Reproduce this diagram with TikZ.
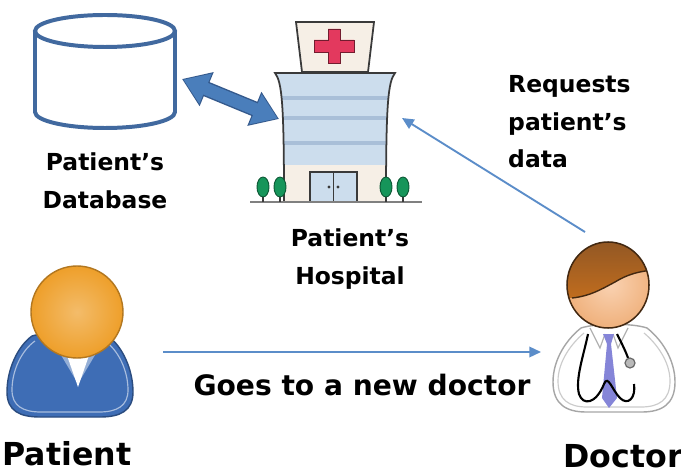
\documentclass[tikz,border=0pt]{standalone}
\usepackage{fontspec}
\setmainfont{DejaVu Sans}
\usetikzlibrary{arrows.meta}
\definecolor{dbblue}{HTML}{41699F}
\definecolor{arrowfill}{HTML}{4A7EBB}
\definecolor{arrowedge}{HTML}{34598C}
\definecolor{linkblue}{HTML}{5B8DC9}
\definecolor{darkline}{HTML}{3A3A3A}
\definecolor{cream}{HTML}{F6EFE6}
\definecolor{glass}{HTML}{CCDDED}
\definecolor{stripe}{HTML}{A9BFD8}
\definecolor{crossred}{HTML}{E3395E}
\definecolor{treegreen}{HTML}{16955A}
\definecolor{patientblue}{HTML}{3E6DB5}
\definecolor{headorange}{HTML}{EE9F2A}
\definecolor{hair}{HTML}{A5642B}
\definecolor{skin}{HTML}{F6B47E}
\definecolor{tie}{HTML}{8585D8}

\begin{document}
\begin{tikzpicture}[x=0.03cm, y=0.03cm,
    iconlabel/.style={font=\fontsize{20}{32}\selectfont\bfseries, align=center, inner sep=0pt},
    biglabel/.style={font=\fontsize{27}{30}\selectfont\bfseries, inner sep=0pt},
    link/.style={-{Triangle[length=10pt, width=9pt]}, linkblue, line width=1.6pt},
    outline/.style={draw=darkline, line width=1.5pt},
    tree/.style={fill=treegreen, draw=treegreen!60!black, line width=0.8pt},
  ]
  \fill[white] (0,0) rectangle (681,474);
  \useasboundingbox (0,0) rectangle (681,474);

  % database
  \filldraw[fill=white, draw=dbblue, line width=3.4pt]
    (35,443) -- (35,362) arc (180:360:70 and 16) -- (175,443);
  \draw[dbblue, line width=3.4pt] (105,443) ellipse (70 and 16);
  \node[iconlabel] (dblabel) at (105,293) {Patient's\\Database};

  % hospital
  \def\building{(275,401) -- (395,401) .. controls (388,392) and (386,370) .. (386,272)
    -- (284,272) .. controls (284,370) and (282,392) .. (275,401) -- cycle}
  \filldraw[outline, fill=cream] (296,452) -- (374,452) -- (368,402) -- (302,402) -- cycle;
  \filldraw[fill=crossred, draw=crossred!50!black, line width=0.8pt]
    (328,445) -- (340,445) -- (340,434) -- (354,434) -- (354,422) -- (340,422)
    -- (340,411) -- (328,411) -- (328,422) -- (314,422) -- (314,434) -- (328,434) -- cycle;
  \fill[cream] \building;
  \begin{scope}
    \clip \building;
    \fill[glass] (270,309) rectangle (400,402);
    \foreach \y in {376,356,331}
      \draw[stripe, line width=2.6pt] (270,\y) -- (400,\y);
  \end{scope}
  \draw[outline] \building;
  \filldraw[outline, fill=glass] (310,272) rectangle (357,302);
  \draw[outline] (333.5,272) -- (333.5,302);
  \fill[darkline] (329,287) circle (1.7) (338,287) circle (1.7);
  \draw[gray, line width=1.6pt] (250,272) -- (422,272);
  \foreach \x in {263,280,386,403} {
    \draw[darkline, line width=1pt] (\x,278) -- (\x,272);
    \draw[tree] (\x,287) ellipse (6 and 10);
  }
  \node[iconlabel] (hosplabel) at (350,215) {Patient's\\Hospital};

  % patient
  \filldraw[fill=patientblue, draw=patientblue!70!black, line width=1.2pt]
    (32,138) .. controls (18,128) and (7,105) .. (7,82) .. controls (7,63) and (20,57) .. (40,57)
    -- (100,57) .. controls (120,57) and (133,63) .. (133,82) .. controls (133,105) and (122,128) .. (108,138)
    .. controls (92,143) and (48,143) .. (32,138) -- cycle;
  \draw[patientblue!45!white, line width=1pt]
    (35,133) .. controls (22,124) and (12,104) .. (12,84) .. controls (12,68) and (23,62) .. (41,62)
    -- (99,62) .. controls (117,62) and (128,68) .. (128,84) .. controls (128,104) and (118,124) .. (105,133);
  \fill[patientblue!55!white] (52,134) -- (64,127) -- (77,92) -- cycle;
  \fill[patientblue!55!white] (104,134) -- (92,127) -- (79,92) -- cycle;
  \fill[white] (64,127) -- (92,127) -- (78,87) -- cycle;
  \shade[inner color=headorange!70!white, outer color=headorange, shading=radial]
    (77,162) circle (46);
  \draw[headorange!75!black, line width=1.2pt] (77,162) circle (46);
  \node[biglabel] (patlabel) at (67,20) {Patient};

  % doctor
  \filldraw[fill=white, draw=gray!70, line width=1.2pt]
    (581,146) .. controls (567,135) and (553,115) .. (553,92) .. controls (553,70) and (566,62) .. (586,62)
    -- (642,62) .. controls (662,62) and (675,70) .. (675,92) .. controls (675,115) and (661,135) .. (647,146)
    .. controls (632,151) and (596,151) .. (581,146) -- cycle;
  \draw[gray!40, line width=1pt]
    (584,141) .. controls (572,131) and (558,113) .. (558,93) .. controls (558,74) and (569,67) .. (587,67)
    -- (641,67) .. controls (659,67) and (670,74) .. (670,93) .. controls (670,113) and (656,131) .. (644,141);
  \draw[gray!60, line width=1pt] (590,146) -- (600,126) -- (605,140) (628,146) -- (618,126) -- (613,140);
  \fill[tie] (603,140) -- (614,140) -- (611,130) -- (617,76) -- (609,66) -- (602,76) -- (607,130) -- cycle;
  \draw[black, line width=1.8pt]
    (588,140) .. controls (584,120) and (575,95) .. (579,80) .. controls (583,68) and (596,70) .. (604,90)
    .. controls (608,100) and (612,84) .. (620,76) .. controls (628,68) and (636,76) .. (634,90);
  \draw[black, line width=1.8pt] (617,140) .. controls (622,130) and (626,122) .. (628,116);
  \filldraw[fill=gray!55, draw=gray!80!black, line width=1pt] (630,111) circle (5);
  \begin{scope}
    \clip (608,189) ellipse (41 and 43);
    \shade[inner color=skin!60!white, outer color=skin!85!brown, shading=radial] (560,140) rectangle (660,240);
    \shade[top color=hair!85!black, bottom color=hair!70!orange]
      (560,176) -- (572,176) .. controls (590,178) and (600,184) .. (615,192)
      .. controls (628,200) and (640,203) .. (655,204) -- (655,240) -- (560,240) -- cycle;
    \draw[hair!40!black, line width=1.2pt] (572,176) .. controls (590,178) and (600,184) .. (615,192)
      .. controls (628,200) and (640,203) .. (655,204);
  \end{scope}
  \draw[hair!40!black, line width=1.3pt] (608,189) ellipse (41 and 43);
  \node[biglabel] (doclabel) at (623,18) {Doctor};

  % connectors
  \coordinate (db-port) at (182,395);
  \coordinate (hosp-port) at (279,355);
  \coordinate (doc-out) at (585,242);
  \coordinate (hosp-in) at (402,356);
  \coordinate (pat-out) at (163,122);
  \coordinate (doc-in) at (541,122);

  \draw[arrowedge, line width=13pt,
    {Triangle[length=0.8cm, width=1.05cm]}-{Triangle[length=0.8cm, width=1.05cm]}]
    (db-port) -- (hosp-port);
  \draw[arrowfill, line width=10.6pt, shorten <=1.3pt, shorten >=1.3pt,
    {Triangle[length=0.72cm, width=0.93cm]}-{Triangle[length=0.72cm, width=0.93cm]}]
    (db-port) -- (hosp-port);
  \draw[link] (doc-out) -- (hosp-in);
  \draw[link] (pat-out) -- (doc-in);

  \node[iconlabel, anchor=west, align=left] (reqlabel) at (508,352) {Requests\\patient's\\data};
  \node[iconlabel, font=\fontsize{24}{28}\selectfont\bfseries] (tripLabel) at (362,89) {Goes to a new doctor};
\end{tikzpicture}
\end{document}
